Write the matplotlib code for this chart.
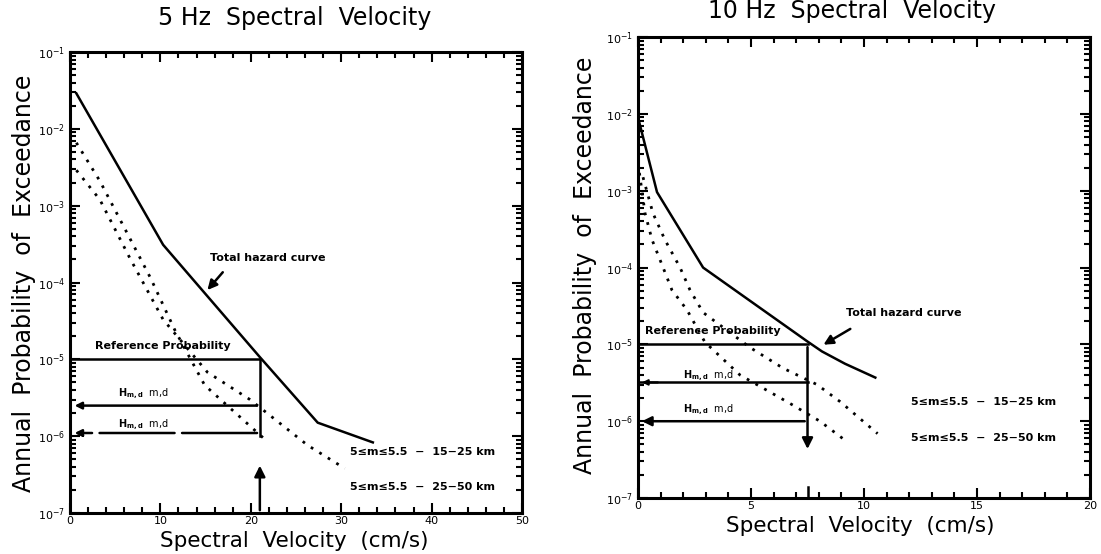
import matplotlib
matplotlib.use('Agg')
import matplotlib.pyplot as plt
from matplotlib.ticker import MultipleLocator, LogLocator, NullFormatter, FixedLocator

# ---- 5 Hz data (velocity cm/s, annual probability)
v5_total = [0.7, 10.3, 21.0, 27.4, 33.5]
p5_total = [2.9e-2, 3.1e-4, 1.07e-5, 1.5e-6, 8.3e-7]
v5_far = [0.7, 3.3, 6.6, 8.9, 11.6, 14.9, 21.6]
p5_far = [6.6e-3, 2.1e-3, 3.8e-4, 1.15e-4, 2.4e-5, 4.6e-6, 9.0e-7]
v5_near = [0.7, 3.3, 6.6, 10.3, 15.2, 19.9, 26.3, 30.4]
p5_near = [2.9e-3, 1.2e-3, 2.1e-4, 3.3e-5, 6.8e-6, 3.0e-6, 7.6e-7, 3.8e-7]
v5_ref = 21.0
p5_levels = [1e-5, 2.5e-6, 1.1e-6]

# ---- 10 Hz data
v10_total = [0.0, 0.84, 2.88, 7.48, 8.14, 9.16, 10.5]
p10_total = [9e-3, 9.6e-4, 1.0e-4, 1.1e-5, 8.1e-6, 5.6e-6, 3.7e-6]
v10_far = [0.0, 0.31, 0.62, 1.11, 1.5, 2.17, 2.96, 4.51, 6.73, 8.05, 9.25]
p10_far = [2.3e-3, 5.1e-4, 2.3e-4, 1.0e-4, 5.1e-5, 2.8e-5, 1.07e-5, 4.0e-6, 1.7e-6, 1.0e-6, 5.4e-7]
v10_near = [0.22, 0.66, 1.19, 1.86, 2.3, 2.88, 4.96, 6.42, 7.92, 8.94, 10.6]
p10_near = [1.5e-3, 5.1e-4, 2.3e-4, 1.0e-4, 5.1e-5, 2.6e-5, 9.1e-6, 4.9e-6, 3.0e-6, 1.8e-6, 6.9e-7]
v10_ref = 7.5
p10_levels = [1e-5, 3.2e-6, 1.0e-6]

y_decades = [1e-7, 1e-6, 1e-5, 1e-4, 1e-3, 1e-2, 1e-1]

lbl_near = "5\u2264m\u22645.5  \u2212  15\u221225 km"
lbl_far = "5\u2264m\u22645.5  \u2212  25\u221250 km"

fig = plt.figure(figsize=(11.01, 5.54), dpi=100)
ax1 = fig.add_axes([0.0636, 0.074, 0.4105, 0.832])
ax2 = fig.add_axes([0.5795, 0.101, 0.4105, 0.832])

dots = (0, (1, 2.6))


def style(ax, xmax, major, minor):
    ax.set_yscale('log')
    ax.set_ylim(1e-7, 1e-1)
    ax.set_xlim(0, xmax)
    ax.xaxis.set_major_locator(MultipleLocator(major))
    ax.xaxis.set_minor_locator(MultipleLocator(minor))
    ax.yaxis.set_major_locator(FixedLocator(y_decades))
    ax.yaxis.set_minor_locator(LogLocator(base=10, subs=range(2, 10), numticks=10))
    ax.yaxis.set_minor_formatter(NullFormatter())
    ax.tick_params(which='both', direction='in', top=True, right=True, width=1.5)
    ax.tick_params(which='major', length=7, labelsize=8)
    ax.tick_params(axis='x', which='major', pad=2)
    ax.tick_params(which='minor', length=4)
    for s in ax.spines.values():
        s.set_linewidth(2.2)


style(ax1, 50, 10, 2)
style(ax2, 20, 5, 1)

# ---- left panel
ax1.plot(v5_total, p5_total, color='k', lw=1.8)
ax1.plot(v5_far, p5_far, color='k', lw=2, ls=dots)
ax1.plot(v5_near, p5_near, color='k', lw=2, ls=dots)
ax1.plot([0, v5_ref], [p5_levels[0]] * 2, color='k', lw=1.8)
ax1.plot([v5_ref, v5_ref], [p5_levels[0], 1e-6], color='k', lw=1.8)
ax1.annotate('', xy=(v5_ref, 4.5e-7), xytext=(v5_ref, 1.0e-7),
             arrowprops=dict(arrowstyle='-|>', lw=1.8, color='k', mutation_scale=16))
ax1.annotate('', xy=(0.2, p5_levels[1]), xytext=(v5_ref, p5_levels[1]),
             arrowprops=dict(arrowstyle='-|>', lw=1.8, color='k', mutation_scale=10))
ax1.annotate('', xy=(0.2, p5_levels[2]), xytext=(v5_ref, p5_levels[2]),
             arrowprops=dict(arrowstyle='-|>', lw=1.8, color='k', mutation_scale=10,
                             linestyle=(0, (30, 3))))
ax1.text(2.8, 1.5e-5, 'Reference Probability', fontsize=8, fontweight='bold', va='center')
ax1.text(5.3, 3.6e-6, r'$\mathbf{H_{m,d}}$  m,d', fontsize=7, va='center')
ax1.text(5.3, 1.4e-6, r'$\mathbf{H_{m,d}}$  m,d', fontsize=7, va='center')
ax1.text(15.5, 2.1e-4, 'Total hazard curve', fontsize=8, fontweight='bold', va='center')
ax1.annotate('', xy=(15.0, 7.5e-5), xytext=(17.1, 1.45e-4),
             arrowprops=dict(arrowstyle='-|>', lw=1.8, color='k', mutation_scale=14))
ax1.text(31, 6.2e-7, lbl_near, fontsize=8, fontweight='bold', va='center')
ax1.text(31, 2.2e-7, lbl_far, fontsize=8, fontweight='bold', va='center')

# ---- right panel
ax2.plot(v10_total, p10_total, color='k', lw=1.8)
ax2.plot(v10_far, p10_far, color='k', lw=2, ls=dots)
ax2.plot(v10_near, p10_near, color='k', lw=2, ls=dots)
ax2.plot([0, v10_ref], [p10_levels[0]] * 2, color='k', lw=1.8)
ax2.annotate('', xy=(v10_ref, 4e-7), xytext=(v10_ref, p10_levels[0]),
             arrowprops=dict(arrowstyle='-|>', lw=1.8, color='k', mutation_scale=16))
ax2.plot([0, v10_ref], [p10_levels[1]] * 2, color='k', lw=1.8)
ax2.plot([v10_ref, v10_ref], [1e-7, 1.4e-7], color='k', lw=1.8)
ax2.annotate('', xy=(0.05, p10_levels[1]), xytext=(1.0, p10_levels[1]),
             arrowprops=dict(arrowstyle='-|>', lw=1.5, color='k', mutation_scale=8))
ax2.annotate('', xy=(0.05, p10_levels[2]), xytext=(v10_ref, p10_levels[2]),
             arrowprops=dict(arrowstyle='-|>', lw=1.8, color='k', mutation_scale=14))
ax2.text(0.3, 1.5e-5, 'Reference Probability', fontsize=8, fontweight='bold', va='center')
ax2.text(2.0, 3.9e-6, r'$\mathbf{H_{m,d}}$  m,d', fontsize=7, va='center')
ax2.text(2.0, 1.4e-6, r'$\mathbf{H_{m,d}}$  m,d', fontsize=7, va='center')
ax2.text(9.2, 2.6e-5, 'Total hazard curve', fontsize=8, fontweight='bold', va='center')
ax2.annotate('', xy=(8.1, 9.5e-6), xytext=(9.5, 1.66e-5),
             arrowprops=dict(arrowstyle='-|>', lw=1.8, color='k', mutation_scale=14))
ax2.text(12.1, 1.8e-6, lbl_near, fontsize=8, fontweight='bold', va='center')
ax2.text(12.1, 6e-7, lbl_far, fontsize=8, fontweight='bold', va='center')

# ---- titles and axis labels
fig.text(295 / 1101, 1 - 18 / 554, '5 Hz  Spectral  Velocity', fontsize=17, ha='center', va='center')
fig.text(852 / 1101, 1 - 11 / 554, '10 Hz  Spectral  Velocity', fontsize=17, ha='center', va='center')
fig.text(24 / 1101, 1 - 283 / 554, 'Annual  Probability  of  Exceedance', fontsize=17,
         rotation=90, ha='center', va='center')
fig.text(585 / 1101, 1 - 265 / 554, 'Annual  Probability  of  Exceedance', fontsize=17,
         rotation=90, ha='center', va='center')
fig.text(294 / 1101, 1 - 541 / 554, 'Spectral  Velocity  (cm/s)', fontsize=15.5, ha='center', va='center')
fig.text(860 / 1101, 1 - 526 / 554, 'Spectral  Velocity  (cm/s)', fontsize=15.5, ha='center', va='center')

fig.savefig('out.png', dpi=100)
